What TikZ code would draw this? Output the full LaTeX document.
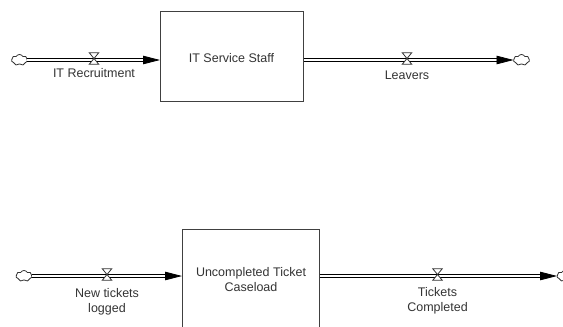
\documentclass[tikz,border=0pt]{standalone}
\usepackage{fontspec}
\setmainfont{Liberation Sans}
\usetikzlibrary{shapes.symbols,arrows.meta,calc}
\begin{document}
\begin{tikzpicture}[x=1pt,y=-1pt,
  stock/.style={draw=black!75, line width=0.9pt, fill=white, inner sep=0},
  lbl/.style={font=\fontsize{12.5}{15.5}\selectfont, text=black!80, align=center, inner sep=0},
  cloudnode/.style={cloud, cloud puffs=7, cloud puff arc=120, cloud ignores aspect, draw=black!80, line width=0.8pt,
    minimum width=16pt, minimum height=11pt, inner sep=0, outer sep=0},
  pipe/.style={double distance=2.2pt, line width=0.8pt, draw=black},
  tipline/.style={-{Triangle[length=17pt,width=8.5pt]}, line width=0.8pt, draw=black},
  valve/.style={minimum width=9.5pt, minimum height=11.5pt, inner sep=0, outer sep=0},
  valveline/.style={draw=black!80, fill=white, line width=0.8pt}
]
\useasboundingbox (0,0) rectangle (563,327);
\begin{scope}
\clip (0,0) rectangle (563,327);
% stocks
\node[stock, minimum width=143pt, minimum height=90pt, anchor=north west] (s1) at (160,11) {};
\node[lbl] (s1l) at (231.5,58) {IT Service Staff};
\node[stock, minimum width=137pt, minimum height=116pt, anchor=north west] (s2) at (182,229) {};
\node[lbl, anchor=north] (s2l) at (251,267) {Uncompleted Ticket\\Caseload};
% clouds
\node[cloudnode] (c1) at (19.5,60) {};
\node[cloudnode] (c2) at (521.5,60) {};
\node[cloudnode] (c3) at (24,276) {};
\node[cloudnode] (c4) at (565,276) {};
% top inflow
\draw[pipe] (c1.east) -- ($(s1.west |- c1.east)+(-15,0)$);
\draw[tipline] ($(s1.west |- c1.east)+(-17,0)$) -- (s1.west |- c1.east);
% top outflow
\coordinate (o1) at (s1.east |- c2.west);
\draw[pipe] (o1) -- ($(c2.west)+(-15,0)$);
\draw[tipline] ($(c2.west)+(-17,0)$) -- (c2.west);
% bottom inflow
\draw[pipe] (c3.east) -- ($(s2.west |- c3.east)+(-15,0)$);
\draw[tipline] ($(s2.west |- c3.east)+(-17,0)$) -- (s2.west |- c3.east);
% bottom outflow
\coordinate (o2) at (s2.east |- c4.west);
\draw[pipe] (o2) -- ($(c4.west)+(-15,0)$);
\draw[tipline] ($(c4.west)+(-17,0)$) -- (c4.west);
% valves
\node[valve] (v1) at (94,58.5) {};
\node[valve] (v2) at (407,58.5) {};
\node[valve] (v3) at (107,274.5) {};
\node[valve] (v4) at (437.5,274.5) {};
\foreach \v in {v1,v2,v3,v4}
  \draw[valveline] (\v.north west) -- (\v.north east) -- (\v.south west) -- (\v.south east) -- cycle;
% flow labels
\node[lbl] (l1) at (94,73.5) {IT Recruitment};
\node[lbl] (l2) at (407,75.5) {Leavers};
\node[lbl, anchor=north] (l3) at (107,288) {New tickets\\logged};
\node[lbl, anchor=north] (l4) at (437.5,287) {Tickets\\Completed};
\end{scope}
\end{tikzpicture}
\end{document}
